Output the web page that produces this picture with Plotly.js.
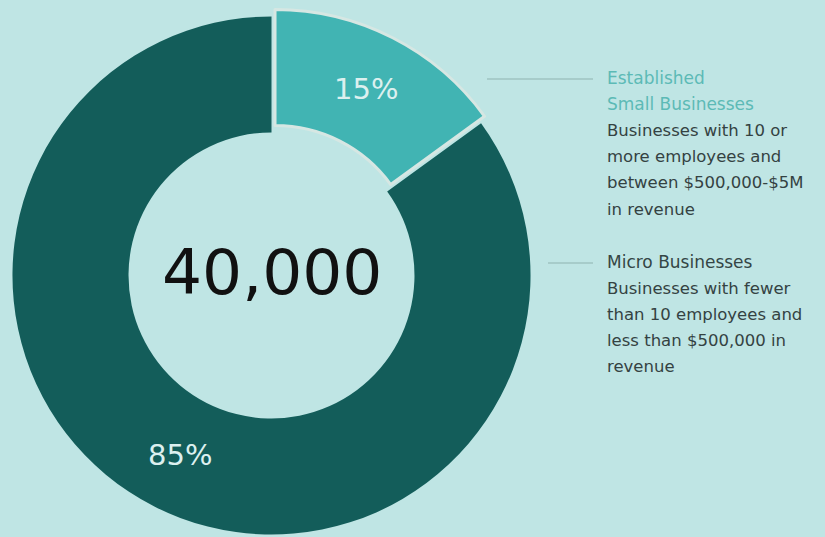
<!DOCTYPE html>
<html>
<head>
<meta charset="utf-8">
<script src="https://cdn.plot.ly/plotly-3.0.1.min.js"></script>
<style>
html,body{margin:0;padding:0;overflow:hidden;background:#bfe5e4;}
#chart{width:825px;height:560px;}
</style>
</head>
<body>
<div id="chart"></div>
<script>
// ---- data ----
const categories = ["Established Small Businesses", "Micro Businesses"];
const businessCounts = [6000, 34000];            // 15% and 85% of 40,000
const sliceColors = ["#41b4b3", "#135d5a"];
const headingLines = [["Established", "Small Businesses"], ["Micro Businesses"]];
const descriptionLines = [
  ["Businesses with 10 or", "more employees and", "between $500,000-$5M", "in revenue"],
  ["Businesses with fewer", "than 10 employees and", "less than $500,000 in", "revenue"]
];

const W = 825, H = 560;
const total = businessCounts.reduce((a, b) => a + b, 0);
const py = p => 1 - p / H;
const pxx = p => p / W;

const trace = {
  type: "pie",
  labels: categories,
  values: businessCounts,
  sort: false,
  direction: "clockwise",
  rotation: 0,
  hole: 0.552,
  pull: [0.03, 0],
  marker: {colors: sliceColors, line: {color: ["#d6e7e3", "rgba(0,0,0,0)"], width: [3, 0]}},
  textinfo: "percent",
  textposition: "inside",
  insidetextorientation: "horizontal",
  textfont: {family: "DejaVu Sans", size: 29, color: "#dcf0ef"},
  domain: {x: [pxx(271.5 - 266.8), pxx(271.5 + 266.8)], y: [py(275.5 + 266.8), py(275.5 - 266.8)]},
  hoverinfo: "none"
};

const annotations = [];
const shapes = [];
// center total
annotations.push({text: total.toLocaleString("en-US"), xref: "paper", yref: "paper",
  x: pxx(272), y: py(272), xanchor: "center", yanchor: "middle", showarrow: false,
  font: {family: "DejaVu Sans", size: 63, color: "#111111"}});

const textX = pxx(605);
const starts = [78, 262];
const lineStartX = [487, 548];
const lineH = 26.2;
const fontFam = "DejaVu Sans";
for (let k = 0; k < categories.length; k++) {
  let yy = starts[k];
  shapes.push({type: "line", xref: "paper", yref: "paper", x0: pxx(lineStartX[k]), x1: pxx(593),
               y0: py(starts[k] + 1), y1: py(starts[k] + 1), line: {color: "#8fb3b0", width: 1}});
  headingLines[k].forEach(t => {
    annotations.push({text: t, xref: "paper", yref: "paper", x: textX, y: py(yy), xanchor: "left", yanchor: "middle",
      showarrow: false, font: {family: fontFam, size: 17, color: k === 0 ? "#5cbab6" : "#344545"}});
    yy += lineH;
  });
  descriptionLines[k].forEach(t => {
    annotations.push({text: t, xref: "paper", yref: "paper", x: textX, y: py(yy), xanchor: "left", yanchor: "middle",
      showarrow: false, font: {family: fontFam, size: 16.5, color: "#344242"}});
    yy += lineH;
  });
}

const layout = {
  width: W, height: H,
  margin: {l: 0, r: 0, t: 0, b: 0},
  paper_bgcolor: "#bfe5e4",
  plot_bgcolor: "#bfe5e4",
  showlegend: false,
  annotations: annotations,
  shapes: shapes
};

Plotly.newPlot("chart", [trace], layout, {staticPlot: true});
</script>
</body>
</html>
